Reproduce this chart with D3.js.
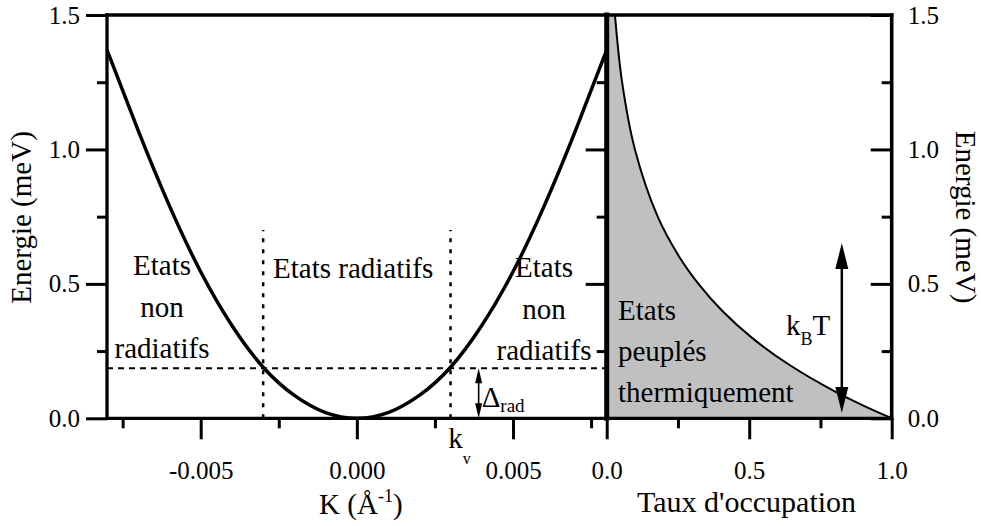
<!DOCTYPE html>
<html><head><meta charset="utf-8">
<script src="https://cdn.jsdelivr.net/npm/d3@7"></script>
<style>
body{margin:0;background:#fff}
svg{display:block}
svg text{font-family:'Liberation Serif','DejaVu Serif','Times New Roman',Times,serif !important;fill:#000}
</style>
</head><body>
<svg id="c" width="981" height="526"></svg>
<script>
// ---- data ----
const kValues = [-0.008,-0.007,-0.006,-0.005,-0.004,-0.003,-0.002,-0.001,0,0.001,0.002,0.003,0.004,0.005,0.006,0.007,0.008];
const dispersionEnergy = [1.37,1.07,0.79,0.545,0.345,0.19,0.085,0.021,0,0.021,0.085,0.19,0.345,0.545,0.79,1.07,1.37];
const occEnergy = [1.5,1.25,1.0,0.75,0.6,0.5,0.4,0.3,0.2,0.1,0.05,0];
const occupation = [0.029,0.054,0.099,0.179,0.255,0.322,0.405,0.509,0.639,0.80,0.895,1.0];
const kDomain = [-0.008,0.008];
const occDomain = [0,1];
const energyDomain = [0,1.5];
const kMajorTicks = [-0.005,0,0.005];
const kMinorTicks = [-0.0075,-0.0025,0.0025,0.0075];
const occMajorTicks = [0,0.5,1];
const occMinorTicks = [0.25,0.75];
const eMajorTicks = [0,0.5,1.0,1.5];
const eMinorTicks = [0.25,0.75,1.25];
const kV = 0.003;           // k_v
const deltaRad = 0.186;     // Δrad (meV)
const kvLineTop = 0.7;      // top of dotted verticals (meV)
const deltaArrowK = 0.0039;
const kbtArrowOcc = 0.825;
const kbtArrow = [0.02,0.652];

const FONT = "'Liberation Serif','DejaVu Serif','Times New Roman',Times,serif";

// ---- layout ----
const svg = d3.select("#c");
const X0=107, XM=606.7, XR=891.7, YT=15, YB=418.3;
const xK = d3.scaleLinear().domain(kDomain).range([X0,XM]);
const xO = d3.scaleLinear().domain(occDomain).range([XM,XR]);
const y = d3.scaleLinear().domain(energyDomain).range([YB,YT]);

const defs = svg.append("defs");
defs.append("clipPath").attr("id","rp")
  .append("rect").attr("x",xO(0)).attr("y",y(1.5)).attr("width",xO(1)-xO(0)).attr("height",y(0)-y(1.5));
defs.append("clipPath").attr("id","lp")
  .append("rect").attr("x",xK(-0.008)).attr("y",y(1.5)).attr("width",xK(0.008)-xK(-0.008)).attr("height",y(0)-y(1.5));

// ---- right panel area + curve ----
const occData = occEnergy.map((e,i)=>({e, o:occupation[i]}));
const rp = svg.append("g").attr("clip-path","url(#rp)");
rp.append("path").datum(occData)
  .attr("fill","#c0c0c0")
  .attr("d", d3.area().curve(d3.curveCatmullRom).y(d=>y(d.e)).x0(xO(0)).x1(d=>xO(d.o)));
rp.append("path").datum(occData)
  .attr("fill","none").attr("stroke","#000").attr("stroke-width",2)
  .attr("d", d3.line().curve(d3.curveCatmullRom).y(d=>y(d.e)).x(d=>xO(d.o)));

// ---- left panel reference lines ----
const lp = svg.append("g");
lp.append("line").attr("x1",xK(kDomain[0])).attr("x2",xK(kDomain[1])).attr("y1",y(deltaRad)).attr("y2",y(deltaRad))
  .attr("stroke","#000").attr("stroke-width",2).attr("stroke-dasharray","6,5");
[-kV,kV].forEach(k=>{
  lp.append("line").attr("x1",xK(k)).attr("x2",xK(k)).attr("y1",y(0)).attr("y2",y(kvLineTop))
    .attr("stroke","#000").attr("stroke-width",2.5).attr("stroke-dasharray","4,7");
});
// dispersion curve
const dispData = kValues.map((k,i)=>({k, e:dispersionEnergy[i]}));
svg.append("g").attr("clip-path","url(#lp)").append("path").datum(dispData)
  .attr("fill","none").attr("stroke","#000").attr("stroke-width",3.5)
  .attr("d", d3.line().curve(d3.curveNatural).x(d=>xK(d.k)).y(d=>y(d.e)));

// ---- arrows ----
function vArrow(x, y1, y2, headL, headW, sw){
  const g = svg.append("g");
  g.append("line").attr("x1",x).attr("x2",x).attr("y1",y1+headL*0.8).attr("y2",y2-headL*0.8)
    .attr("stroke","#000").attr("stroke-width",sw);
  g.append("path").attr("d",`M${x},${y1}L${x-headW/2},${y1+headL}L${x+headW/2},${y1+headL}Z`).attr("fill","#000");
  g.append("path").attr("d",`M${x},${y2}L${x-headW/2},${y2-headL}L${x+headW/2},${y2-headL}Z`).attr("fill","#000");
}
vArrow(xK(deltaArrowK), y(deltaRad), y(0), 15, 7, 1.6);
vArrow(xO(kbtArrowOcc), y(kbtArrow[1]), y(kbtArrow[0]), 26, 13, 2.5);

// ---- axes ----
const fmt1 = d=>d.toFixed(1);
const fmt3 = d=>d.toFixed(3);
function styleAxis(g, fs){
  g.attr("font-family",FONT).attr("font-size",fs);
  g.select(".domain").remove();
  g.selectAll(".tick line").attr("stroke","#000").attr("stroke-width",3);
  g.selectAll(".tick text").attr("font-family",FONT).attr("font-size",fs).attr("fill","#000");
}
// left axis
svg.append("g").attr("transform",`translate(${X0},0)`)
  .call(d3.axisLeft(y).tickValues(eMajorTicks).tickSize(21).tickPadding(6).tickFormat(fmt1)).call(g=>styleAxis(g,25));
svg.append("g").attr("transform",`translate(${X0},0)`)
  .call(d3.axisLeft(y).tickValues(eMinorTicks).tickSize(10).tickFormat("")).call(g=>styleAxis(g,25));
// middle axis (ticks into left panel)
svg.append("g").attr("transform",`translate(${XM},0)`)
  .call(d3.axisLeft(y).tickValues(eMajorTicks.filter(v=>v>0&&v<1.5)).tickSize(21).tickFormat("")).call(g=>styleAxis(g,25));
svg.append("g").attr("transform",`translate(${XM},0)`)
  .call(d3.axisLeft(y).tickValues(eMinorTicks).tickSize(10).tickFormat("")).call(g=>styleAxis(g,25));
// right axis: ticks inward, labels outward
svg.append("g").attr("transform",`translate(${XR},0)`)
  .call(d3.axisRight(y).tickValues(eMajorTicks).tickSize(-21).tickPadding(16).tickFormat(fmt1)).call(g=>styleAxis(g,25));
svg.append("g").attr("transform",`translate(${XR},0)`)
  .call(d3.axisRight(y).tickValues(eMinorTicks).tickSize(-10).tickFormat("")).call(g=>styleAxis(g,25));
// bottom axes
svg.append("g").attr("transform",`translate(0,${YB})`)
  .call(d3.axisBottom(xK).tickValues(kMajorTicks).tickSize(21).tickPadding(22).tickFormat(fmt3)).call(g=>styleAxis(g,25));
svg.append("g").attr("transform",`translate(0,${YB})`)
  .call(d3.axisBottom(xK).tickValues(kMinorTicks).tickSize(10).tickFormat("")).call(g=>styleAxis(g,25));
svg.append("g").attr("transform",`translate(0,${YB})`)
  .call(d3.axisBottom(xO).tickValues(occMajorTicks).tickSize(21).tickPadding(22).tickFormat(fmt1)).call(g=>styleAxis(g,25));
svg.append("g").attr("transform",`translate(0,${YB})`)
  .call(d3.axisBottom(xO).tickValues(occMinorTicks).tickSize(10).tickFormat("")).call(g=>styleAxis(g,25));

// frame
const fr = svg.append("g").attr("stroke","#000").attr("stroke-linecap","square");
fr.append("line").attr("x1",X0).attr("x2",XR).attr("y1",YT).attr("y2",YT).attr("stroke-width",3.3);
fr.append("line").attr("x1",X0).attr("x2",XR).attr("y1",YB).attr("y2",YB).attr("stroke-width",3.3);
fr.append("line").attr("x1",X0).attr("x2",X0).attr("y1",YT).attr("y2",YB).attr("stroke-width",3.3);
fr.append("line").attr("x1",XM).attr("x2",XM).attr("y1",YT).attr("y2",YB).attr("stroke-width",5);
fr.append("line").attr("x1",XR).attr("x2",XR).attr("y1",YT).attr("y2",YB).attr("stroke-width",3.6);

// ---- titles ----
function T(){ return svg.append("text").attr("font-family",FONT); }
T().attr("transform","translate(31,217.5) rotate(-90)").attr("text-anchor","middle")
  .attr("font-size",29).text("Energie (meV)");
T().attr("transform","translate(956,217) rotate(90)").attr("text-anchor","middle")
  .attr("font-size",29).text("Energie (meV)");
const kt = T().attr("x",xK(0)+4).attr("y",514).attr("text-anchor","middle").attr("font-size",29);
kt.append("tspan").text("K (Å");
kt.append("tspan").attr("dy",-12).attr("font-size",18).text("-1");
kt.append("tspan").attr("dy",12).text(")");
T().attr("x",637).attr("y",512).attr("font-size",30).text("Taux d'occupation");

// ---- annotations ----
function lines(x, ys, arr, anchor){
  arr.forEach((t,i)=>T().attr("x",x).attr("y",ys[i]).attr("text-anchor",anchor).attr("font-size",29).text(t));
}
lines(162,[275,317,358],["Etats","non","radiatifs"],"middle");
lines(544,[277,319,360],["Etats","non","radiatifs"],"middle");
lines(273,[278],["Etats radiatifs"],"start");
lines(618,[320,361,402],["Etats","peuplés","thermiquement"],"start");

const kb = T().attr("x",786).attr("y",335).attr("font-size",29);
kb.append("tspan").text("k");
kb.append("tspan").attr("dy",10).attr("font-size",18).text("B");
kb.append("tspan").attr("dy",-10).text("T");

const dr = T().attr("x",481.7).attr("y",406.7).attr("font-size",29);
dr.append("tspan").text("Δ");
dr.append("tspan").attr("dy",5).attr("font-size",19).text("rad");

const kvT = T().attr("x",448.3).attr("y",448.3).attr("font-size",29);
kvT.append("tspan").text("k");
kvT.append("tspan").attr("dy",16).attr("font-size",16).text("v");
</script>
</body></html>
